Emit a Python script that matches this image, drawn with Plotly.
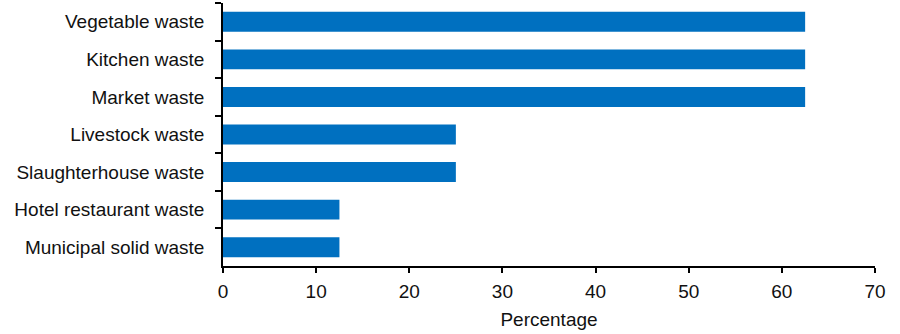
import plotly.graph_objects as go

categories = ["Vegetable waste", "Kitchen waste", "Market waste", "Livestock waste",
              "Slaughterhouse waste", "Hotel restaurant waste", "Municipal solid waste"]
values = [62.5, 62.5, 62.5, 25, 25, 12.5, 12.5]
x_ticks = [0, 10, 20, 30, 40, 50, 60, 70]

fig = go.Figure(go.Bar(
    x=values, y=categories, orientation="h",
    marker=dict(color="#0070C0", line=dict(width=0)),
    width=0.53,
))

font = dict(family="Liberation Sans, Arial, Helvetica, sans-serif", size=19, color="#111111")

fig.update_layout(
    width=900, height=334,
    margin=dict(l=223, r=25, t=3, b=68),
    paper_bgcolor="white", plot_bgcolor="white",
    font=font,
    showlegend=False,
    xaxis=dict(
        range=[0, 70], tickvals=x_ticks, showgrid=False, zeroline=False,
        showline=True, linecolor="black", linewidth=1.5,
        ticks="outside", ticklen=5, tickwidth=1.5, tickcolor="black",
        ticklabelstandoff=2,
        title=dict(text="Percentage", standoff=12, font=font),
        tickfont=font,
    ),
    yaxis=dict(
        categoryorder="array", categoryarray=categories, autorange="reversed",
        showgrid=False, zeroline=False,
        showline=True, linecolor="black", linewidth=1.5,
        ticks="outside", ticklen=6, tickwidth=1.5, tickcolor="black",
        tickson="boundaries", ticklabelstandoff=13,
        tickfont=font,
    ),
)

fig.write_html("out.html")
